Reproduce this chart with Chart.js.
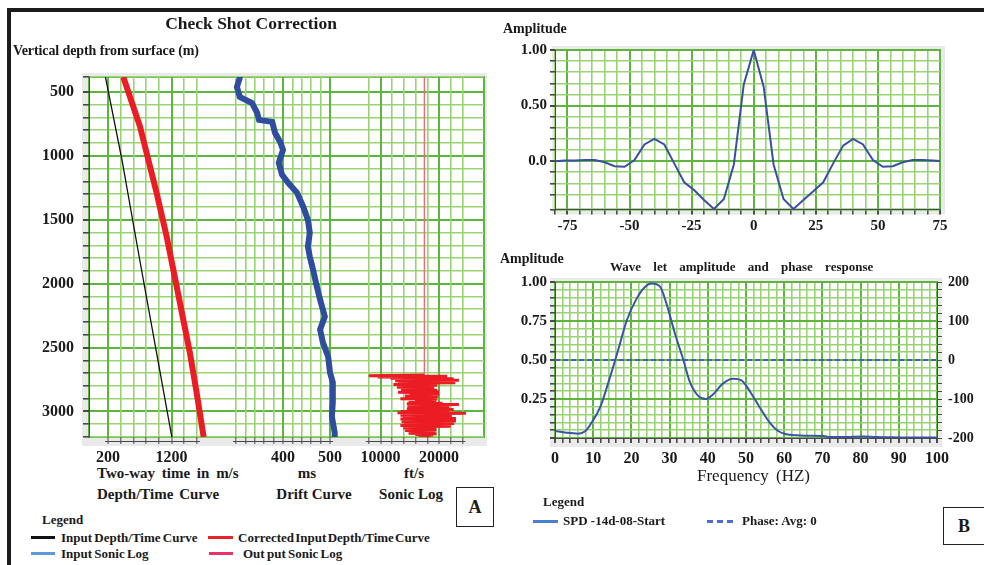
<!DOCTYPE html>
<html>
<head>
<meta charset="utf-8">
<script src="https://cdn.jsdelivr.net/npm/chart.js@4.4.1/dist/chart.umd.min.js"></script>
<style>
  body { margin: 0; width: 984px; height: 565px; background: #fff; position: relative; overflow: hidden;
         font-family: "Liberation Serif", "Times New Roman", serif; color: #1a1a1a; }
  canvas { position: absolute; }
  .t { position: absolute; white-space: nowrap; font-weight: bold; line-height: 1; }
  .c { transform: translateX(-50%); }
  .rule { position: absolute; background: #1c1c1c; }
  .sw { position: absolute; height: 2.5px; }
  .box { position: absolute; border: 1.5px solid #222; box-sizing: border-box; font-weight: bold;
         font-size: 18px; display: flex; align-items: center; justify-content: center; }
</style>
</head>
<body>
<div class="rule" style="left:7px;top:8px;width:977px;height:4px"></div>
<div class="rule" style="left:7px;top:8px;width:4px;height:557px"></div>

<canvas id="logs" width="492" height="462" style="left:0;top:0"></canvas>
<canvas id="wavelet" width="494" height="240" style="left:490px;top:0"></canvas>
<canvas id="spectrum" width="494" height="230" style="left:490px;top:240px"></canvas>

<div class="t c" style="left:251px;top:15px;font-size:17.5px">Check Shot Correction</div>
<div class="t" style="left:13px;top:44px;font-size:14px;letter-spacing:-0.1px">Vertical depth from surface (m)</div>

<div class="t" style="left:97px;top:466px;font-size:15px;word-spacing:3px">Two-way time in m/s</div>
<div class="t" style="left:97px;top:487px;font-size:15px;word-spacing:2px">Depth/Time Curve</div>
<div class="t c" style="left:307px;top:466px;font-size:15px">ms</div>
<div class="t c" style="left:314px;top:487px;font-size:15px">Drift Curve</div>
<div class="t c" style="left:414px;top:466px;font-size:15px">ft/s</div>
<div class="t c" style="left:411px;top:487px;font-size:15px">Sonic Log</div>

<div class="box" style="left:456px;top:487px;width:38px;height:40px">A</div>

<div class="t" style="left:42px;top:513px;font-size:13px">Legend</div>
<div class="sw" style="left:31px;top:536px;width:24px;background:#111"></div>
<div class="t" style="left:61px;top:531px;font-size:13px;word-spacing:-1px">Input Depth/Time Curve</div>
<div class="sw" style="left:208px;top:536px;width:25px;background:#e8232a"></div>
<div class="t" style="left:238px;top:531px;font-size:13px;word-spacing:-2px">Corrected Input Depth/Time Curve</div>
<div class="sw" style="left:31px;top:552px;width:24px;background:#5b9bd5"></div>
<div class="t" style="left:61px;top:547px;font-size:13px;word-spacing:-1px">Input Sonic Log</div>
<div class="sw" style="left:209px;top:552px;width:24px;background:#e8336a"></div>
<div class="t" style="left:243px;top:547px;font-size:13px;word-spacing:-1px">Out put Sonic Log</div>

<div class="t" style="left:503px;top:22px;font-size:14px">Amplitude</div>
<div class="t" style="left:500px;top:252px;font-size:14px">Amplitude</div>
<div class="t" style="left:610px;top:260px;font-size:13px;word-spacing:9px">Wave let amplitude and phase response</div>
<div class="t" style="left:697px;top:467px;font-size:17px;font-weight:normal;word-spacing:3px">Frequency (HZ)</div>

<div class="t" style="left:543px;top:495px;font-size:13px">Legend</div>
<div class="sw" style="left:533px;top:520px;width:25px;background:#4a7fd0"></div>
<div class="t" style="left:563px;top:514px;font-size:13px">SPD -14d-08-Start</div>
<div class="sw" style="left:707px;top:520px;width:26px;background:repeating-linear-gradient(90deg,#4a6fd0 0 6px,transparent 6px 10px)"></div>
<div class="t" style="left:742px;top:514px;font-size:13px">Phase: Avg: 0</div>

<div class="box" style="left:943px;top:507px;width:42px;height:38px">B</div>

<script>
// ---- Check shot panel data (depth in metres) ----
const depthLabels = [500, 1000, 1500, 2000, 2500, 3000];

// input depth/time curve
const inputDepth = [383, 1032, 1815, 2597, 3200];
const inputTime = [160, 420, 700, 985, 1205];

// corrected depth/time curve
const correctedDepth = [383, 771, 1293, 1632, 2024, 2284, 2545, 2858, 3200];
const correctedTime = [441, 704, 967, 1124, 1282, 1386, 1491, 1597, 1706];
const timeLabels = [200, 1200];

// drift curve (ms)
const driftDepth = [383, 390, 461, 539, 586, 664, 719, 734, 820, 891, 953, 1055, 1148, 1211, 1289, 1398,
  1500, 1602, 1711, 1789, 1891, 2023, 2125, 2258, 2359, 2461, 2570, 2695, 2773, 2930, 3039, 3164, 3200];
const driftMs = [308, 308, 302, 308, 334, 345, 349, 377, 383, 394, 400, 391, 398, 411, 430, 443,
  453, 457, 453, 457, 464, 472, 479, 489, 479, 485, 496, 500, 506, 506, 504, 510, 510];
const driftLabels = [400, 500];

// sonic log (ft/s)
const sonicDepth = [383, 2712,
  2715, 2720, 2725, 2730, 2735, 2740, 2745, 2750, 2755, 2760, 2765, 2770, 2775, 2780, 2785, 2790,
  2795, 2800, 2805, 2810, 2815, 2820, 2825, 2830, 2835, 2840, 2845, 2850, 2855, 2860, 2865, 2870,
  2875, 2880, 2885, 2890, 2895, 2900, 2905, 2910, 2915, 2920, 2925, 2930, 2935, 2940, 2945, 2950,
  2955, 2960, 2965, 2970, 2975, 2980, 2985, 2990, 2995, 3000, 3005, 3010, 3015, 3020, 3025, 3030,
  3035, 3040, 3045, 3050, 3055, 3060, 3065, 3070, 3075, 3080, 3085, 3090, 3095, 3100, 3105, 3110,
  3115, 3120, 3125, 3130, 3135, 3140, 3145, 3150, 3155, 3160, 3165, 3170, 3175, 3180, 3185, 3190,
  3195, 3200];
const sonicVelocity = [17500, 17500,
  17400, 8000, 21400, 9500, 20500, 11700, 22500, 13000, 23400, 12500, 21000, 14500, 22800, 13000, 19500, 12200,
  19700, 14500, 18800, 12800, 19200, 15000, 18500, 13500, 19700, 15500, 20000, 13000, 19500, 15000, 20000, 15800,
  19300, 14200, 19800, 16000, 19000, 13400, 19700, 15900, 18800, 16200, 19500, 14800, 20600, 14500, 23400, 15200,
  20500, 14600, 21800, 15500, 20200, 14500, 22500, 15000, 20600, 13500, 21800, 12900, 24600, 14200, 21000, 13400,
  22200, 15000, 21000, 13800, 22900, 13400, 21200, 14000, 22900, 13600, 21500, 15000, 22600, 14000, 20500, 13400,
  22000, 14600, 19600, 13900, 19400, 15000, 19600, 14200, 19300, 15500, 19100, 14800, 19600, 16000, 19000, 16500,
  18500, 17000];
const sonicLabels = [10000, 20000];

// ---- Wavelet (time in ms) ----
const waveTime = [-80, -76, -72, -68, -64, -60, -56, -52, -48, -44, -40, -36, -32, -28, -24, -20, -16, -12, -8, -4,
  0, 4, 8, 12, 16, 20, 24, 28, 32, 36, 40, 44, 48, 52, 56, 60, 64, 68, 72, 76];
const waveAmp = [0, 0.005, 0.005, 0.01, 0.01, -0.01, -0.045, -0.05, 0.01, 0.15, 0.2, 0.15, -0.02, -0.19, -0.26, -0.35, -0.43, -0.34, -0.03, 0.69,
  1.0, 0.67, -0.03, -0.34, -0.43, -0.35, -0.27, -0.19, -0.02, 0.14, 0.2, 0.15, 0.01, -0.05, -0.045, -0.01, 0.01, 0.01, 0.005, 0];
const waveXLabels = [-75, -50, -25, 0, 25, 50, 75];
const waveYLabels = ['0.0', '0.50', '1.00'];

// ---- Amplitude and phase spectrum ----
const freqHz = [0, 3, 6, 8, 9.6, 11.8, 14.4, 16.6, 18.8, 21.4, 23.6, 25.3, 27.5, 29.2, 31.4, 33.6, 35.3, 37.5, 39.5,
  41.4, 44, 46.6, 48.8, 51, 53.6, 56.2, 58.4, 60.5, 63.2, 66, 70.2, 72, 76, 80.7, 84, 90, 100];
const specAmp = [0.045, 0.034, 0.028, 0.045, 0.099, 0.196, 0.39, 0.57, 0.755, 0.895, 0.97, 0.99, 0.97, 0.86, 0.67,
  0.5, 0.36, 0.27, 0.25, 0.28, 0.35, 0.38, 0.37, 0.3, 0.196, 0.099, 0.045, 0.024, 0.017, 0.015, 0.013, 0.006, 0.006,
  0.01, 0.006, 0.004, 0.003];
const phaseHz = [0, 100];
const phaseDeg = [0, 0];
const ampLabels = ['0.25', '0.50', '0.75', '1.00'];
const phaseLabels = [-200, -100, 0, 100, 200];

const GRID_MINOR = '#98d374';
const GRID_MAJOR = '#5db53b';
const AXIS = '#4a4a4a';
const near = (a, b) => Math.abs(a - b) < 1e-6 * Math.max(1, Math.abs(b));
const isMult = (v, m) => near(v / m, Math.round(v / m));
const has = (list, v) => list.some(l => near(v, l));

Chart.defaults.font.family = 'Liberation Serif';
Chart.defaults.color = '#1a1a1a';
Chart.defaults.animation = false;
Chart.defaults.events = [];

const tickFont = { size: 15, weight: 'bold' };

// grey surround, white plot area and green frame behind the grid
const framePlugin = {
  id: 'frame',
  beforeDraw(chart, args, opts) {
    const { ctx, chartArea: a } = chart;
    const [l, t, r, b] = opts.pad;
    ctx.save();
    ctx.fillStyle = '#eaeaea';
    ctx.fillRect(a.left - l, a.top - t, a.width + l + r, a.height + t + b);
    ctx.fillStyle = '#fff';
    ctx.fillRect(a.left, a.top, a.width, a.height);
    ctx.strokeStyle = GRID_MAJOR;
    ctx.lineWidth = 2;
    ctx.strokeRect(a.left, a.top, a.width, a.height);
    ctx.restore();
  }
};

// short axis lines under each of the three log tracks
const trackAxisPlugin = {
  id: 'trackAxis',
  afterDraw(chart, args, opts) {
    const { ctx, chartArea: a } = chart;
    ctx.save();
    ctx.strokeStyle = AXIS;
    ctx.lineWidth = 1;
    opts.tracks.forEach(([id, lo, hi]) => {
      const s = chart.scales[id];
      ctx.beginPath();
      ctx.moveTo(s.getPixelForValue(lo) - 3, a.bottom + 4.5);
      ctx.lineTo(s.getPixelForValue(hi) + 3, a.bottom + 4.5);
      ctx.stroke();
    });
    ctx.restore();
  }
};

const pts = (xs, ys) => xs.map((x, i) => ({ x, y: ys[i] }));

// each track gets its own slice of the bottom edge; ticks only inside its span
function trackAxis(min, max, step, span, labels, weight) {
  return {
    type: 'linear', position: 'bottom', stack: 'tracks', stackWeight: weight,
    min, max,
    afterBuildTicks: ax => {
      const ticks = [];
      for (let v = span[0]; v <= span[1] + 1e-6; v += step) ticks.push({ value: v });
      ax.ticks = ticks;
    },
    afterFit: ax => { ax.height = 25; },
    border: { display: false },
    grid: {
      color: c => has(labels, c.tick.value) ? GRID_MAJOR : GRID_MINOR,
      lineWidth: c => has(labels, c.tick.value) ? 2 : 1.6,
      tickColor: AXIS, tickLength: 7, tickWidth: 1
    },
    ticks: {
      autoSkip: false, maxRotation: 0, padding: 4, font: { size: 16, weight: 'bold' },
      callback: v => has(labels, v) ? String(Math.round(v)) : ''
    }
  };
}

new Chart(document.getElementById('logs'), {
  type: 'line',
  data: {
    datasets: [
      { data: pts(inputTime, inputDepth), xAxisID: 'x1', yAxisID: 'y', borderColor: '#111', borderWidth: 1.3, pointRadius: 0 },
      { data: pts(correctedTime, correctedDepth), xAxisID: 'x1', yAxisID: 'y', borderColor: '#ec1c24', borderWidth: 6,
        pointRadius: 0, borderCapStyle: 'butt' },
      { data: pts(driftMs, driftDepth), xAxisID: 'x2', yAxisID: 'y', borderColor: '#2f4d9e', borderWidth: 6,
        pointRadius: 0, borderJoinStyle: 'miter' },
      { data: pts(sonicVelocity, sonicDepth), xAxisID: 'x3', yAxisID: 'y', borderColor: '#ec1c24', borderWidth: 3,
        pointRadius: 0, segment: { borderWidth: c => c.p0DataIndex === 0 ? 1 : 3, borderColor: c => c.p0DataIndex === 0 ? '#f06a6a' : '#ec1c24' } }
    ]
  },
  options: {
    responsive: false,
    layout: { padding: { left: 0, top: 77, right: 8, bottom: 0 } },
    plugins: {
      legend: { display: false }, tooltip: { enabled: false },
      frame: { pad: [7, 4, 3, 9] },
      trackAxis: { tracks: [['x1', 200, 1600], ['x2', 300, 500], ['x3', 8000, 24000]] }
    },
    scales: {
      y: {
        type: 'linear', reverse: true, min: 383, max: 3200,
        afterFit: ax => { ax.width = 89; },
        border: { color: AXIS },
        grid: {
          color: c => isMult(c.tick.value, 500) ? GRID_MAJOR : GRID_MINOR,
          lineWidth: c => isMult(c.tick.value, 500) ? 2 : 1.6,
          tickColor: AXIS, tickLength: 6
        },
        ticks: { stepSize: 100, autoSkip: false, padding: 9, font: { size: 16, weight: 'bold' },
          callback: v => has(depthLabels, v) ? String(Math.round(v)) : '' }
      },
      x1: trackAxis(-99, 1995, 200, [200, 1600], timeLabels, 133),
      x2: trackAxis(270.2, 542.6, 20, [300, 500], driftLabels, 128),
      x3: trackAxis(4786, 27692, 2000, [8000, 24000], sonicLabels, 134)
    }
  },
  plugins: [framePlugin, trackAxisPlugin]
});

new Chart(document.getElementById('wavelet'), {
  type: 'line',
  data: {
    datasets: [{ data: pts(waveTime, waveAmp), borderColor: '#3a4fa4', borderWidth: 2, pointRadius: 0 }]
  },
  options: {
    responsive: false,
    layout: { padding: { left: 0, top: 50, right: 44, bottom: 0 } },
    plugins: { legend: { display: false }, tooltip: { enabled: false }, frame: { pad: [3, 4, 5, 5] } },
    scales: {
      x: {
        type: 'linear', min: -80, max: 75,
        afterFit: ax => { ax.height = 30.5; },
        border: { color: AXIS },
        grid: {
          color: c => isMult(c.tick.value, 25) ? GRID_MAJOR : GRID_MINOR,
          lineWidth: c => isMult(c.tick.value, 25) ? 2 : 1.6,
          tickColor: AXIS, tickLength: 5
        },
        ticks: { stepSize: 5, autoSkip: false, maxRotation: 0, padding: 3, font: tickFont,
          callback: v => has(waveXLabels, v) ? String(Math.round(v)) : '' }
      },
      y: {
        type: 'linear', min: -0.435, max: 1,
        afterFit: ax => { ax.width = 65; },
        border: { color: AXIS },
        grid: {
          color: c => isMult(c.tick.value, 0.5) ? GRID_MAJOR : GRID_MINOR,
          lineWidth: c => isMult(c.tick.value, 0.5) ? 2 : 1.6,
          tickColor: AXIS, tickLength: 5
        },
        ticks: { stepSize: 0.1, autoSkip: false, padding: 3, font: tickFont,
          callback: v => {
            const i = [0, 0.5, 1].findIndex(l => near(v, l));
            return i >= 0 ? waveYLabels[i] : '';
          } }
      }
    }
  },
  plugins: [framePlugin]
});

new Chart(document.getElementById('spectrum'), {
  type: 'line',
  data: {
    datasets: [
      { data: pts(freqHz, specAmp), yAxisID: 'y', borderColor: '#3a52a8', borderWidth: 2, pointRadius: 0,
        cubicInterpolationMode: 'monotone' },
      { data: pts(phaseHz, phaseDeg), yAxisID: 'y2', borderColor: '#3f5fcc', borderWidth: 2, pointRadius: 0,
        borderDash: [5, 3] }
    ]
  },
  options: {
    responsive: false,
    layout: { padding: { left: 0, top: 42, right: 0, bottom: 0 } },
    plugins: { legend: { display: false }, tooltip: { enabled: false }, frame: { pad: [5, 4, 5, 9] } },
    scales: {
      x: {
        type: 'linear', min: 0, max: 100,
        afterFit: ax => { ax.height = 32; },
        border: { color: AXIS },
        grid: {
          color: c => isMult(c.tick.value, 10) ? GRID_MAJOR : GRID_MINOR,
          lineWidth: c => isMult(c.tick.value, 10) ? 2 : 1.6,
          tickColor: AXIS, tickLength: 5
        },
        ticks: { stepSize: 2, autoSkip: false, maxRotation: 0, padding: 6, font: { size: 16, weight: 'bold' },
          callback: v => isMult(v, 10) ? String(Math.round(v)) : '' }
      },
      y: {
        type: 'linear', min: 0, max: 1,
        afterFit: ax => { ax.width = 65; },
        border: { color: AXIS },
        grid: {
          color: c => isMult(c.tick.value, 0.25) ? GRID_MAJOR : GRID_MINOR,
          lineWidth: c => isMult(c.tick.value, 0.25) ? 2 : 1.6,
          tickColor: AXIS, tickLength: 5
        },
        ticks: { stepSize: 0.05, autoSkip: false, padding: 3, font: tickFont,
          callback: v => {
            const i = [0.25, 0.5, 0.75, 1].findIndex(l => near(v, l));
            return i >= 0 ? ampLabels[i] : '';
          } }
      },
      y2: {
        type: 'linear', position: 'right', min: -200, max: 200,
        afterFit: ax => { ax.width = 47; },
        border: { color: AXIS },
        grid: { drawOnChartArea: false, tickColor: AXIS, tickLength: 5 },
        ticks: { stepSize: 20, autoSkip: false, padding: 6, font: { size: 14, weight: 'bold' },
          callback: v => has(phaseLabels, v) ? String(Math.round(v)) : '' }
      }
    }
  },
  plugins: [framePlugin]
});
</script>
</body>
</html>
